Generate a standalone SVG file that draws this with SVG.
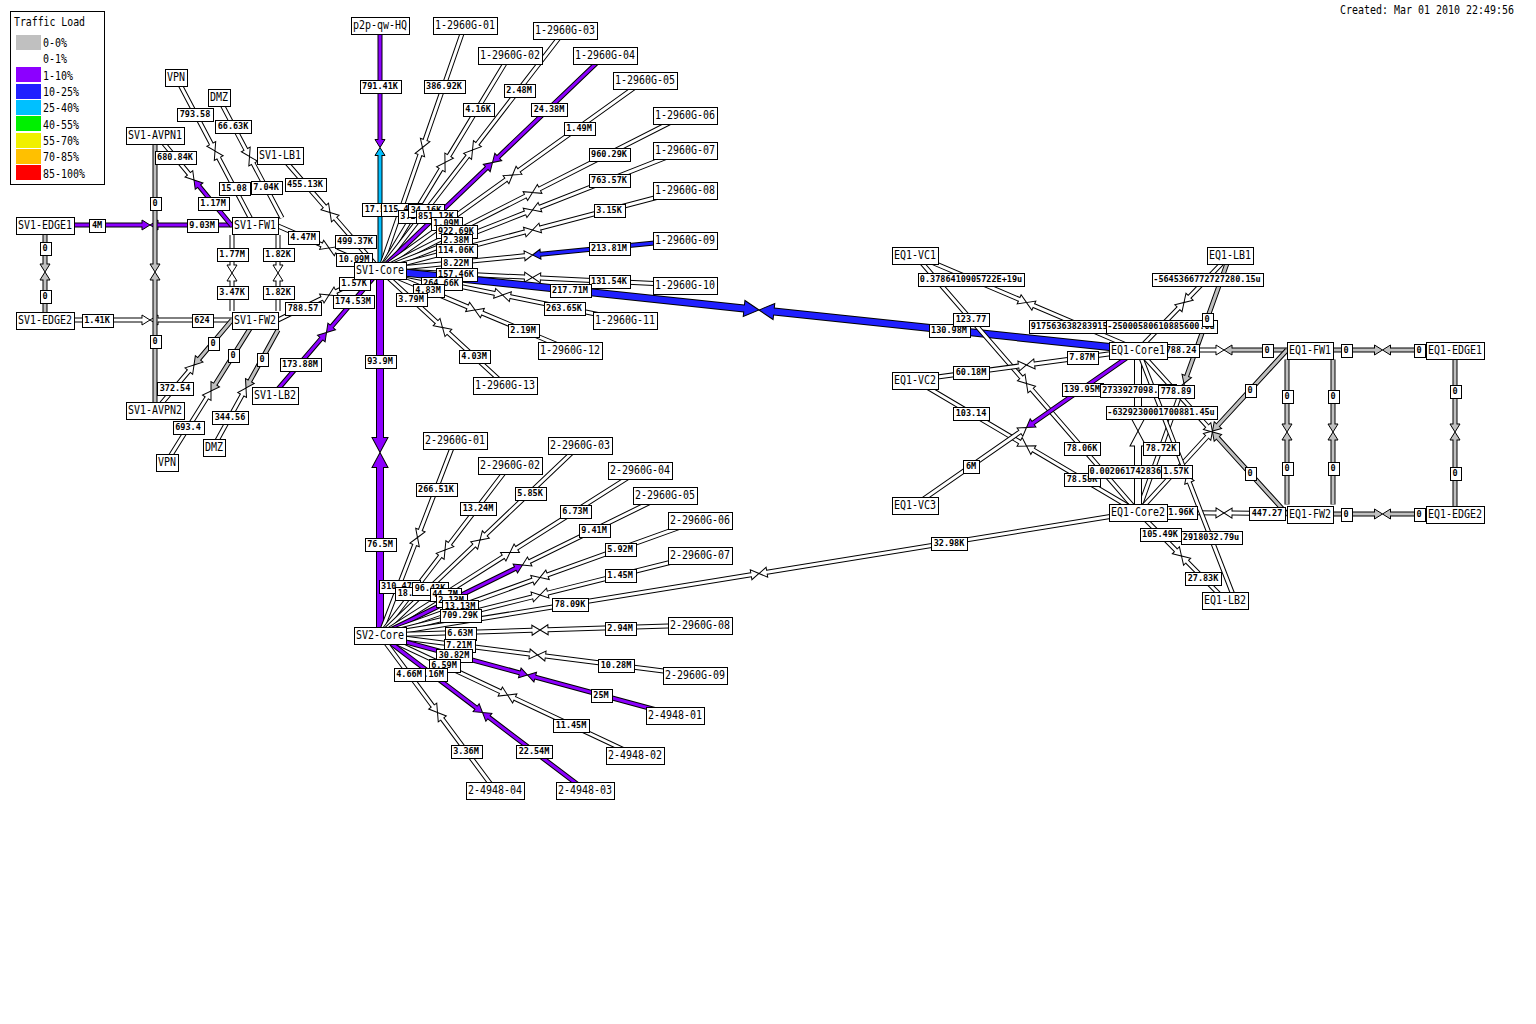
<svg xmlns="http://www.w3.org/2000/svg" width="1536" height="1024" viewBox="0 0 1536 1024">
<style>
.o{fill:none;stroke:#000;stroke-width:5;stroke-dasharray:0 8 9999}
.f{fill:none;stroke-width:3;stroke-dasharray:0 8 9999}
.O{fill:none;stroke:#000;stroke-width:8;stroke-dasharray:0 15 9999}
.F{fill:none;stroke-width:6;stroke-dasharray:0 15 9999}
.w{stroke:#fff;marker-start:url(#mw)}
.g{stroke:#c0c0c0;marker-start:url(#mg)}
.p{stroke:#8c00ff;marker-start:url(#mp)}
.b{stroke:#2020ff;marker-start:url(#mb)}
.c{stroke:#00c0ff;marker-start:url(#mc)}
.P{stroke:#8c00ff;marker-start:url(#mP)}
.B{stroke:#2020ff;marker-start:url(#mB)}
.W{stroke:#fff;marker-start:url(#mW)}
.lb rect{fill:#fff;stroke:#000;shape-rendering:crispEdges}
.lb text{font-family:"DejaVu Sans Mono",monospace;font-size:8.5px;font-weight:bold;text-anchor:middle;fill:#000}
.nd rect{fill:#fff;stroke:#000;shape-rendering:crispEdges}
.nd text,.tx{font-family:"DejaVu Sans Mono",monospace;font-size:12px;fill:#000}
.nd text{text-anchor:middle}
.hs{fill:none;stroke:#000;stroke-width:.3333}
.HS{fill:none;stroke:#000;stroke-width:.1667}
</style>
<defs>
<marker id="mw" markerWidth="1" markerHeight="1" orient="auto" overflow="visible"><path d="M2.8-.5H2.667V-1.667L0 0 2.667 1.667V.5H2.8z" fill="#fff"/><path class="hs" d="M2.667-.5V-1.667L0 0 2.667 1.667V.5"/></marker>
<marker id="mg" markerWidth="1" markerHeight="1" orient="auto" overflow="visible"><path d="M2.8-.5H2.667V-1.667L0 0 2.667 1.667V.5H2.8z" fill="#c0c0c0"/><path class="hs" d="M2.667-.5V-1.667L0 0 2.667 1.667V.5"/></marker>
<marker id="mp" markerWidth="1" markerHeight="1" orient="auto" overflow="visible"><path d="M2.8-.5H2.667V-1.667L0 0 2.667 1.667V.5H2.8z" fill="#8c00ff"/><path class="hs" d="M2.667-.5V-1.667L0 0 2.667 1.667V.5"/></marker>
<marker id="mb" markerWidth="1" markerHeight="1" orient="auto" overflow="visible"><path d="M2.8-.5H2.667V-1.667L0 0 2.667 1.667V.5H2.8z" fill="#2020ff"/><path class="hs" d="M2.667-.5V-1.667L0 0 2.667 1.667V.5"/></marker>
<marker id="mc" markerWidth="1" markerHeight="1" orient="auto" overflow="visible"><path d="M2.8-.5H2.667V-1.667L0 0 2.667 1.667V.5H2.8z" fill="#00c0ff"/><path class="hs" d="M2.667-.5V-1.667L0 0 2.667 1.667V.5"/></marker>
<marker id="mP" markerWidth="1" markerHeight="1" orient="auto" overflow="visible"><path d="M2.6-.5H2.5V-1.333L0 0 2.5 1.333V.5H2.6z" fill="#8c00ff"/><path class="HS" d="M2.5-.5V-1.333L0 0 2.5 1.333V.5"/></marker>
<marker id="mB" markerWidth="1" markerHeight="1" orient="auto" overflow="visible"><path d="M2.6-.5H2.5V-1.333L0 0 2.5 1.333V.5H2.6z" fill="#2020ff"/><path class="HS" d="M2.5-.5V-1.333L0 0 2.5 1.333V.5"/></marker>
<marker id="mW" markerWidth="1" markerHeight="1" orient="auto" overflow="visible"><path d="M2.6-.5H2.5V-1.333L0 0 2.5 1.333V.5H2.6z" fill="#fff"/><path class="HS" d="M2.5-.5V-1.333L0 0 2.5 1.333V.5"/></marker>
</defs>
<rect width="1536" height="1024" fill="#fff"/>
<g id="connectors">
<g id="l-sv1edge1-fw1"><path class="o" d="M150 225L45 225"/><path class="f p" d="M150 225L45 225"/><path class="o" d="M150 225L255 225"/><path class="f p" d="M150 225L255 225"/></g>
<g id="l-sv1edge2-fw2"><path class="o" d="M150 320L45 320"/><path class="f w" d="M150 320L45 320"/><path class="o" d="M150 320L255 320"/><path class="f w" d="M150 320L255 320"/></g>
<g id="l-sv1edge1-edge2"><path class="o" d="M45 272L45 224"/><path class="f g" d="M45 272L45 224"/><path class="o" d="M45 272L45 320"/><path class="f g" d="M45 272L45 320"/></g>
<g id="l-avpn1-avpn2"><path class="o" d="M155 272L155 134"/><path class="f g" d="M155 272L155 134"/><path class="o" d="M155 272L155 410"/><path class="f g" d="M155 272L155 410"/></g>
<g id="l-fw1-fw2-a"><path class="o" d="M232 273L232 235"/><path class="f w" d="M232 273L232 235"/><path class="o" d="M232 273L232 311"/><path class="f w" d="M232 273L232 311"/></g>
<g id="l-fw1-fw2-b"><path class="o" d="M278 273L278 235"/><path class="f w" d="M278 273L278 235"/><path class="o" d="M278 273L278 311"/><path class="f w" d="M278 273L278 311"/></g>
<g id="l-avpn1-fw1"><path class="o" d="M194 180L156 134"/><path class="f w" d="M194 180L156 134"/><path class="o" d="M194 180L232 226"/><path class="f p" d="M194 180L232 226"/></g>
<g id="l-vpn-fw1"><path class="o" d="M215 151L176 77"/><path class="f w" d="M215 151L176 77"/><path class="o" d="M215 151L254 225"/><path class="f w" d="M215 151L254 225"/></g>
<g id="l-dmz-fw1"><path class="o" d="M249.5 156.5L217 95"/><path class="f w" d="M249.5 156.5L217 95"/><path class="o" d="M249.5 156.5L282 218"/><path class="f w" d="M249.5 156.5L282 218"/></g>
<g id="l-lb1-core"><path class="o" d="M330 212.5L280 155"/><path class="f w" d="M330 212.5L280 155"/><path class="o" d="M330 212.5L380 270"/><path class="f w" d="M330 212.5L380 270"/></g>
<g id="l-fw1-core"><path class="o" d="M329 248L278 226"/><path class="f w" d="M329 248L278 226"/><path class="o" d="M329 248L380 270"/><path class="f w" d="M329 248L380 270"/></g>
<g id="l-fw2-core"><path class="o" d="M329 295L278 320"/><path class="f w" d="M329 295L278 320"/><path class="o" d="M329 295L380 270"/><path class="f w" d="M329 295L380 270"/></g>
<g id="l-lb2-core"><path class="o" d="M326.5 332.5L273 395"/><path class="f p" d="M326.5 332.5L273 395"/><path class="o" d="M326.5 332.5L380 270"/><path class="f p" d="M326.5 332.5L380 270"/></g>
<g id="l-fw2-avpn2"><path class="o" d="M194 365L232 320"/><path class="f g" d="M194 365L232 320"/><path class="o" d="M194 365L156 410"/><path class="f w" d="M194 365L156 410"/></g>
<g id="l-fw2-vpn"><path class="o" d="M211 391L256 319"/><path class="f g" d="M211 391L256 319"/><path class="o" d="M211 391L166 463"/><path class="f w" d="M211 391L166 463"/></g>
<g id="l-fw2-dmz"><path class="o" d="M246 388L278 330"/><path class="f g" d="M246 388L278 330"/><path class="o" d="M246 388L214 446"/><path class="f w" d="M246 388L214 446"/></g>
<g id="l-p2p-core"><path class="o" d="M380 147.5L380 25"/><path class="f p" d="M380 147.5L380 25"/><path class="o" d="M380 147.5L380 270"/><path class="f c" d="M380 147.5L380 270"/></g>
<g id="l-1g01"><path class="o" d="M422.5 147.5L465 25"/><path class="f w" d="M422.5 147.5L465 25"/><path class="o" d="M422.5 147.5L380 270"/><path class="f w" d="M422.5 147.5L380 270"/></g>
<g id="l-1g02"><path class="o" d="M445 162.5L510 55"/><path class="f w" d="M445 162.5L510 55"/><path class="o" d="M445 162.5L380 270"/><path class="f w" d="M445 162.5L380 270"/></g>
<g id="l-1g03"><path class="o" d="M472.5 150L565 30"/><path class="f w" d="M472.5 150L565 30"/><path class="o" d="M472.5 150L380 270"/><path class="f w" d="M472.5 150L380 270"/></g>
<g id="l-1g04"><path class="o" d="M492.5 162.5L605 55"/><path class="f p" d="M492.5 162.5L605 55"/><path class="o" d="M492.5 162.5L380 270"/><path class="f p" d="M492.5 162.5L380 270"/></g>
<g id="l-1g05"><path class="o" d="M512.5 175L645 80"/><path class="f w" d="M512.5 175L645 80"/><path class="o" d="M512.5 175L380 270"/><path class="f w" d="M512.5 175L380 270"/></g>
<g id="l-1g06"><path class="o" d="M532.5 192.5L685 115"/><path class="f w" d="M532.5 192.5L685 115"/><path class="o" d="M532.5 192.5L380 270"/><path class="f w" d="M532.5 192.5L380 270"/></g>
<g id="l-1g07"><path class="o" d="M532.5 210L685 150"/><path class="f w" d="M532.5 210L685 150"/><path class="o" d="M532.5 210L380 270"/><path class="f w" d="M532.5 210L380 270"/></g>
<g id="l-1g08"><path class="o" d="M532.5 230L685 190"/><path class="f w" d="M532.5 230L685 190"/><path class="o" d="M532.5 230L380 270"/><path class="f w" d="M532.5 230L380 270"/></g>
<g id="l-1g09"><path class="o" d="M532.5 255L685 240"/><path class="f b" d="M532.5 255L685 240"/><path class="o" d="M532.5 255L380 270"/><path class="f w" d="M532.5 255L380 270"/></g>
<g id="l-1g10"><path class="o" d="M532.5 277.5L685 285"/><path class="f w" d="M532.5 277.5L685 285"/><path class="o" d="M532.5 277.5L380 270"/><path class="f w" d="M532.5 277.5L380 270"/></g>
<g id="l-1g11"><path class="o" d="M502.5 295L625 320"/><path class="f w" d="M502.5 295L625 320"/><path class="o" d="M502.5 295L380 270"/><path class="f w" d="M502.5 295L380 270"/></g>
<g id="l-1g12"><path class="o" d="M475 310L570 350"/><path class="f w" d="M475 310L570 350"/><path class="o" d="M475 310L380 270"/><path class="f w" d="M475 310L380 270"/></g>
<g id="l-1g13"><path class="o" d="M442.5 327.5L505 385"/><path class="f w" d="M442.5 327.5L505 385"/><path class="o" d="M442.5 327.5L380 270"/><path class="f w" d="M442.5 327.5L380 270"/></g>
<g id="l-sv1-sv2"><path class="O" d="M380 452.5L380 270"/><path class="F P" d="M380 452.5L380 270"/><path class="O" d="M380 452.5L380 635"/><path class="F P" d="M380 452.5L380 635"/></g>
<g id="l-sv1-eq1"><path class="O" d="M759 310L380 270"/><path class="F B" d="M759 310L380 270"/><path class="O" d="M759 310L1138 350"/><path class="F B" d="M759 310L1138 350"/></g>
<g id="l-2g01"><path class="o" d="M417.5 537.5L455 440"/><path class="f w" d="M417.5 537.5L455 440"/><path class="o" d="M417.5 537.5L380 635"/><path class="f w" d="M417.5 537.5L380 635"/></g>
<g id="l-2g02"><path class="o" d="M445 550L510 465"/><path class="f w" d="M445 550L510 465"/><path class="o" d="M445 550L380 635"/><path class="f w" d="M445 550L380 635"/></g>
<g id="l-2g03"><path class="o" d="M480 540L580 445"/><path class="f w" d="M480 540L580 445"/><path class="o" d="M480 540L380 635"/><path class="f w" d="M480 540L380 635"/></g>
<g id="l-2g04"><path class="o" d="M510 552.5L640 470"/><path class="f w" d="M510 552.5L640 470"/><path class="o" d="M510 552.5L380 635"/><path class="f w" d="M510 552.5L380 635"/></g>
<g id="l-2g05"><path class="o" d="M522.5 565L665 495"/><path class="f w" d="M522.5 565L665 495"/><path class="o" d="M522.5 565L380 635"/><path class="f p" d="M522.5 565L380 635"/></g>
<g id="l-2g06"><path class="o" d="M540 577.5L700 520"/><path class="f w" d="M540 577.5L700 520"/><path class="o" d="M540 577.5L380 635"/><path class="f w" d="M540 577.5L380 635"/></g>
<g id="l-2g07"><path class="o" d="M540 595L700 555"/><path class="f w" d="M540 595L700 555"/><path class="o" d="M540 595L380 635"/><path class="f w" d="M540 595L380 635"/></g>
<g id="l-sv2-eq1"><path class="o" d="M759 573.5L380 635"/><path class="f w" d="M759 573.5L380 635"/><path class="o" d="M759 573.5L1138 512"/><path class="f w" d="M759 573.5L1138 512"/></g>
<g id="l-2g08"><path class="o" d="M540 630L700 625"/><path class="f w" d="M540 630L700 625"/><path class="o" d="M540 630L380 635"/><path class="f w" d="M540 630L380 635"/></g>
<g id="l-2g09"><path class="o" d="M537.5 655L695 675"/><path class="f w" d="M537.5 655L695 675"/><path class="o" d="M537.5 655L380 635"/><path class="f w" d="M537.5 655L380 635"/></g>
<g id="l-4948-01"><path class="o" d="M527.5 675L675 715"/><path class="f p" d="M527.5 675L675 715"/><path class="o" d="M527.5 675L380 635"/><path class="f p" d="M527.5 675L380 635"/></g>
<g id="l-4948-02"><path class="o" d="M507.5 695L635 755"/><path class="f w" d="M507.5 695L635 755"/><path class="o" d="M507.5 695L380 635"/><path class="f w" d="M507.5 695L380 635"/></g>
<g id="l-4948-03"><path class="o" d="M482.5 712.5L585 790"/><path class="f p" d="M482.5 712.5L585 790"/><path class="o" d="M482.5 712.5L380 635"/><path class="f p" d="M482.5 712.5L380 635"/></g>
<g id="l-4948-04"><path class="o" d="M437.5 712.5L495 790"/><path class="f w" d="M437.5 712.5L495 790"/><path class="o" d="M437.5 712.5L380 635"/><path class="f w" d="M437.5 712.5L380 635"/></g>
<g id="l-vc1-core1"><path class="o" d="M1026.5 302.5L915 255"/><path class="f w" d="M1026.5 302.5L915 255"/><path class="o" d="M1026.5 302.5L1138 350"/><path class="f w" d="M1026.5 302.5L1138 350"/></g>
<g id="l-vc1-core2"><path class="o" d="M1026.5 383.5L915 255"/><path class="f w" d="M1026.5 383.5L915 255"/><path class="o" d="M1026.5 383.5L1138 512"/><path class="f w" d="M1026.5 383.5L1138 512"/></g>
<g id="l-vc2-core1"><path class="o" d="M1026.5 365L915 380"/><path class="f w" d="M1026.5 365L915 380"/><path class="o" d="M1026.5 365L1138 350"/><path class="f w" d="M1026.5 365L1138 350"/></g>
<g id="l-vc2-core2"><path class="o" d="M1026.5 446L915 380"/><path class="f w" d="M1026.5 446L915 380"/><path class="o" d="M1026.5 446L1138 512"/><path class="f w" d="M1026.5 446L1138 512"/></g>
<g id="l-vc3-core1"><path class="o" d="M1026.5 427.5L915 505"/><path class="f w" d="M1026.5 427.5L915 505"/><path class="o" d="M1026.5 427.5L1138 350"/><path class="f p" d="M1026.5 427.5L1138 350"/></g>
<g id="l-lb1-core1"><path class="o" d="M1184 302.5L1230 255"/><path class="f w" d="M1184 302.5L1230 255"/><path class="o" d="M1184 302.5L1138 350"/><path class="f w" d="M1184 302.5L1138 350"/></g>
<g id="l-lb1-core2"><path class="o" d="M1184 383.5L1230 255"/><path class="f g" d="M1184 383.5L1230 255"/><path class="o" d="M1184 383.5L1138 512"/><path class="f w" d="M1184 383.5L1138 512"/></g>
<g id="l-core1-core2"><path class="O" d="M1138 431L1138 350"/><path class="F W" d="M1138 431L1138 350"/><path class="O" d="M1138 431L1138 512"/><path class="F W" d="M1138 431L1138 512"/></g>
<g id="l-core1-fw1"><path class="o" d="M1224 350L1138 350"/><path class="f w" d="M1224 350L1138 350"/><path class="o" d="M1224 350L1310 350"/><path class="f g" d="M1224 350L1310 350"/></g>
<g id="l-core2-fw2"><path class="o" d="M1224 513L1138 512"/><path class="f w" d="M1224 513L1138 512"/><path class="o" d="M1224 513L1310 514"/><path class="f w" d="M1224 513L1310 514"/></g>
<g id="l-fw1-edge1"><path class="o" d="M1382.5 350L1310 350"/><path class="f g" d="M1382.5 350L1310 350"/><path class="o" d="M1382.5 350L1455 350"/><path class="f g" d="M1382.5 350L1455 350"/></g>
<g id="l-fw2-edge2"><path class="o" d="M1382.5 514L1310 514"/><path class="f g" d="M1382.5 514L1310 514"/><path class="o" d="M1382.5 514L1455 514"/><path class="f g" d="M1382.5 514L1455 514"/></g>
<g id="l-edge1-edge2"><path class="o" d="M1455 432L1455 350"/><path class="f g" d="M1455 432L1455 350"/><path class="o" d="M1455 432L1455 514"/><path class="f g" d="M1455 432L1455 514"/></g>
<g id="l-eqfw-a"><path class="o" d="M1287 432L1287 359.5"/><path class="f g" d="M1287 432L1287 359.5"/><path class="o" d="M1287 432L1287 504.5"/><path class="f g" d="M1287 432L1287 504.5"/></g>
<g id="l-eqfw-b"><path class="o" d="M1333 432L1333 359.5"/><path class="f g" d="M1333 432L1333 359.5"/><path class="o" d="M1333 432L1333 504.5"/><path class="f g" d="M1333 432L1333 504.5"/></g>
<g id="l-fw1-core2"><path class="o" d="M1212.5 431L1287 350"/><path class="f g" d="M1212.5 431L1287 350"/><path class="o" d="M1212.5 431L1138 512"/><path class="f w" d="M1212.5 431L1138 512"/></g>
<g id="l-fw2-core1"><path class="o" d="M1212.5 432L1287 514"/><path class="f g" d="M1212.5 432L1287 514"/><path class="o" d="M1212.5 432L1138 350"/><path class="f w" d="M1212.5 432L1138 350"/></g>
<g id="l-lb2-core2"><path class="o" d="M1181.5 556L1225 600"/><path class="f w" d="M1181.5 556L1225 600"/><path class="o" d="M1181.5 556L1138 512"/><path class="f w" d="M1181.5 556L1138 512"/></g>
<g id="l-lb2-core1"><path class="o" d="M1186.5 475L1235 600"/><path class="f w" d="M1186.5 475L1235 600"/><path class="o" d="M1186.5 475L1138 350"/><path class="f w" d="M1186.5 475L1138 350"/></g>
</g>
<g id="link-labels" class="lb">
<rect x="89" y="219" width="16" height="13"/><text x="97" y="228">4M</text>
<rect x="187" y="219" width="31" height="13"/><text x="202" y="228">9.03M</text>
<rect x="82" y="314" width="31" height="13"/><text x="97" y="323">1.41K</text>
<rect x="192" y="314" width="21" height="13"/><text x="202" y="323">624</text>
<rect x="40" y="242" width="11" height="13"/><text x="45" y="251">0</text>
<rect x="40" y="290" width="11" height="13"/><text x="45" y="299">0</text>
<rect x="150" y="197" width="11" height="13"/><text x="155" y="206">0</text>
<rect x="150" y="335" width="11" height="13"/><text x="155" y="344">0</text>
<rect x="217" y="248" width="31" height="13"/><text x="232" y="257">1.77M</text>
<rect x="217" y="286" width="31" height="13"/><text x="232" y="295">3.47K</text>
<rect x="263" y="248" width="31" height="13"/><text x="278" y="257">1.82K</text>
<rect x="263" y="286" width="31" height="13"/><text x="278" y="295">1.82K</text>
<rect x="155" y="151" width="41" height="13"/><text x="175" y="160">680.84K</text>
<rect x="198" y="197" width="31" height="13"/><text x="213" y="206">1.17M</text>
<rect x="177" y="108" width="36" height="13"/><text x="195" y="117">793.58</text>
<rect x="219" y="182" width="31" height="13"/><text x="234" y="191">15.08</text>
<rect x="215" y="120" width="36" height="13"/><text x="233" y="129">66.63K</text>
<rect x="251" y="181" width="31" height="13"/><text x="266" y="190">7.04K</text>
<rect x="285" y="178" width="41" height="13"/><text x="305" y="187">455.13K</text>
<rect x="335" y="235" width="41" height="13"/><text x="355" y="244">499.37K</text>
<rect x="288" y="231" width="31" height="13"/><text x="303" y="240">4.47M</text>
<rect x="336" y="253" width="36" height="13"/><text x="354" y="262">10.09M</text>
<rect x="285" y="302" width="36" height="13"/><text x="303" y="311">788.57</text>
<rect x="339" y="277" width="31" height="13"/><text x="354" y="286">1.57K</text>
<rect x="280" y="358" width="41" height="13"/><text x="300" y="367">173.88M</text>
<rect x="333" y="295" width="41" height="13"/><text x="353" y="304">174.53M</text>
<rect x="208" y="337" width="11" height="13"/><text x="213" y="346">0</text>
<rect x="157" y="382" width="36" height="13"/><text x="175" y="391">372.54</text>
<rect x="228" y="349" width="11" height="13"/><text x="233" y="358">0</text>
<rect x="173" y="421" width="31" height="13"/><text x="188" y="430">693.4</text>
<rect x="257" y="353" width="11" height="13"/><text x="262" y="362">0</text>
<rect x="212" y="411" width="36" height="13"/><text x="230" y="420">344.56</text>
<rect x="360" y="80" width="41" height="13"/><text x="380" y="89">791.41K</text>
<rect x="362" y="203" width="36" height="13"/><text x="380" y="212">17.51M</text>
<rect x="424" y="80" width="41" height="13"/><text x="444" y="89">386.92K</text>
<rect x="381" y="203" width="41" height="13"/><text x="401" y="212">115.43K</text>
<rect x="463" y="103" width="31" height="13"/><text x="478" y="112">4.16K</text>
<rect x="398" y="210" width="31" height="13"/><text x="413" y="219">3.24M</text>
<rect x="504" y="84" width="31" height="13"/><text x="519" y="93">2.48M</text>
<rect x="408" y="204" width="36" height="13"/><text x="426" y="213">34.16K</text>
<rect x="531" y="103" width="36" height="13"/><text x="549" y="112">24.38M</text>
<rect x="416" y="210" width="41" height="13"/><text x="436" y="219">851.12K</text>
<rect x="564" y="122" width="31" height="13"/><text x="579" y="131">1.49M</text>
<rect x="431" y="217" width="31" height="13"/><text x="446" y="226">1.09M</text>
<rect x="589" y="148" width="41" height="13"/><text x="609" y="157">960.29K</text>
<rect x="436" y="225" width="41" height="13"/><text x="456" y="234">922.69K</text>
<rect x="589" y="174" width="41" height="13"/><text x="609" y="183">763.57K</text>
<rect x="441" y="234" width="31" height="13"/><text x="456" y="243">2.38M</text>
<rect x="594" y="204" width="31" height="13"/><text x="609" y="213">3.15K</text>
<rect x="436" y="244" width="41" height="13"/><text x="456" y="253">114.06K</text>
<rect x="589" y="242" width="41" height="13"/><text x="609" y="251">213.81M</text>
<rect x="441" y="257" width="31" height="13"/><text x="456" y="266">8.22M</text>
<rect x="589" y="275" width="41" height="13"/><text x="609" y="284">131.54K</text>
<rect x="436" y="268" width="41" height="13"/><text x="456" y="277">157.46K</text>
<rect x="544" y="302" width="41" height="13"/><text x="564" y="311">263.65K</text>
<rect x="421" y="277" width="41" height="13"/><text x="441" y="286">264.66K</text>
<rect x="508" y="324" width="31" height="13"/><text x="523" y="333">2.19M</text>
<rect x="413" y="284" width="31" height="13"/><text x="428" y="293">4.83M</text>
<rect x="459" y="350" width="31" height="13"/><text x="474" y="359">4.03M</text>
<rect x="396" y="293" width="31" height="13"/><text x="411" y="302">3.79M</text>
<rect x="365" y="355" width="31" height="13"/><text x="380" y="364">93.9M</text>
<rect x="365" y="538" width="31" height="13"/><text x="380" y="547">76.5M</text>
<rect x="550" y="284" width="41" height="13"/><text x="570" y="293">217.71M</text>
<rect x="929" y="324" width="41" height="13"/><text x="949" y="333">130.98M</text>
<rect x="416" y="483" width="41" height="13"/><text x="436" y="492">266.51K</text>
<rect x="379" y="580" width="41" height="13"/><text x="399" y="589">310.47K</text>
<rect x="460" y="502" width="36" height="13"/><text x="478" y="511">13.24M</text>
<rect x="395" y="587" width="36" height="13"/><text x="413" y="596">18.56M</text>
<rect x="515" y="487" width="31" height="13"/><text x="530" y="496">5.85K</text>
<rect x="412" y="582" width="36" height="13"/><text x="430" y="591">96.43K</text>
<rect x="560" y="505" width="31" height="13"/><text x="575" y="514">6.73M</text>
<rect x="430" y="588" width="31" height="13"/><text x="445" y="597">44.7M</text>
<rect x="579" y="524" width="31" height="13"/><text x="594" y="533">9.41M</text>
<rect x="436" y="594" width="31" height="13"/><text x="451" y="603">2.13M</text>
<rect x="605" y="543" width="31" height="13"/><text x="620" y="552">5.92M</text>
<rect x="442" y="600" width="36" height="13"/><text x="460" y="609">13.13M</text>
<rect x="605" y="569" width="31" height="13"/><text x="620" y="578">1.45M</text>
<rect x="440" y="609" width="41" height="13"/><text x="460" y="618">709.29K</text>
<rect x="552" y="598" width="36" height="13"/><text x="570" y="607">78.09K</text>
<rect x="931" y="537" width="36" height="13"/><text x="949" y="546">32.98K</text>
<rect x="605" y="622" width="31" height="13"/><text x="620" y="631">2.94M</text>
<rect x="445" y="627" width="31" height="13"/><text x="460" y="636">6.63M</text>
<rect x="598" y="659" width="36" height="13"/><text x="616" y="668">10.28M</text>
<rect x="444" y="639" width="31" height="13"/><text x="459" y="648">7.21M</text>
<rect x="591" y="689" width="21" height="13"/><text x="601" y="698">25M</text>
<rect x="436" y="649" width="36" height="13"/><text x="454" y="658">30.82M</text>
<rect x="553" y="719" width="36" height="13"/><text x="571" y="728">11.45M</text>
<rect x="429" y="659" width="31" height="13"/><text x="444" y="668">6.59M</text>
<rect x="516" y="745" width="36" height="13"/><text x="534" y="754">22.54M</text>
<rect x="416" y="668" width="31" height="13"/><text x="431" y="677">5.16M</text>
<rect x="451" y="745" width="31" height="13"/><text x="466" y="754">3.36M</text>
<rect x="394" y="668" width="31" height="13"/><text x="409" y="677">4.66M</text>
<rect x="918" y="273" width="106" height="13"/><text x="971" y="282">0.3786410905722E+19u</text>
<rect x="1029" y="320" width="106" height="13"/><text x="1082" y="329">9175636382839155.13u</text>
<rect x="953" y="313" width="36" height="13"/><text x="971" y="322">123.77</text>
<rect x="1064" y="442" width="36" height="13"/><text x="1082" y="451">78.06K</text>
<rect x="953" y="366" width="36" height="13"/><text x="971" y="375">60.18M</text>
<rect x="1067" y="351" width="31" height="13"/><text x="1082" y="360">7.87M</text>
<rect x="953" y="407" width="36" height="13"/><text x="971" y="416">103.14</text>
<rect x="1064" y="473" width="36" height="13"/><text x="1082" y="482">78.58K</text>
<rect x="963" y="460" width="16" height="13"/><text x="971" y="469">6M</text>
<rect x="1062" y="383" width="41" height="13"/><text x="1082" y="392">139.95M</text>
<rect x="1152" y="273" width="111" height="13"/><text x="1207" y="282">-5645366772727280.15u</text>
<rect x="1106" y="320" width="111" height="13"/><text x="1161" y="329">-25000580610885600.0u</text>
<rect x="1202" y="313" width="11" height="13"/><text x="1207" y="322">0</text>
<rect x="1143" y="442" width="36" height="13"/><text x="1161" y="451">78.72K</text>
<rect x="1100" y="384" width="76" height="13"/><text x="1138" y="393">2733927098.34u</text>
<rect x="1088" y="465" width="101" height="13"/><text x="1138" y="474">0.0020617428361737u</text>
<rect x="1163" y="344" width="36" height="13"/><text x="1181" y="353">788.24</text>
<rect x="1262" y="344" width="11" height="13"/><text x="1267" y="353">0</text>
<rect x="1166" y="506" width="31" height="13"/><text x="1181" y="515">1.96K</text>
<rect x="1249" y="507" width="36" height="13"/><text x="1267" y="516">447.27</text>
<rect x="1341" y="344" width="11" height="13"/><text x="1346" y="353">0</text>
<rect x="1414" y="344" width="11" height="13"/><text x="1419" y="353">0</text>
<rect x="1341" y="508" width="11" height="13"/><text x="1346" y="517">0</text>
<rect x="1414" y="508" width="11" height="13"/><text x="1419" y="517">0</text>
<rect x="1450" y="385" width="11" height="13"/><text x="1455" y="394">0</text>
<rect x="1450" y="467" width="11" height="13"/><text x="1455" y="476">0</text>
<rect x="1282" y="390" width="11" height="13"/><text x="1287" y="399">0</text>
<rect x="1282" y="462" width="11" height="13"/><text x="1287" y="471">0</text>
<rect x="1328" y="390" width="11" height="13"/><text x="1333" y="399">0</text>
<rect x="1328" y="462" width="11" height="13"/><text x="1333" y="471">0</text>
<rect x="1245" y="384" width="11" height="13"/><text x="1250" y="393">0</text>
<rect x="1161" y="465" width="31" height="13"/><text x="1176" y="474">1.57K</text>
<rect x="1245" y="467" width="11" height="13"/><text x="1250" y="476">0</text>
<rect x="1158" y="385" width="36" height="13"/><text x="1176" y="394">778.89</text>
<rect x="1185" y="572" width="36" height="13"/><text x="1203" y="581">27.83K</text>
<rect x="1140" y="528" width="41" height="13"/><text x="1160" y="537">105.49K</text>
<rect x="1181" y="531" width="61" height="13"/><text x="1211" y="540">2918032.79u</text>
<rect x="1106" y="406" width="111" height="13"/><text x="1161" y="415">-6329230001700881.45u</text>
</g>
<g id="nodes" class="nd">
<g id="n-sv1-edge1"><rect x="16" y="217" width="58" height="17"/><text x="45" y="229" textLength="54" lengthAdjust="spacingAndGlyphs">SV1-EDGE1</text></g>
<g id="n-sv1-edge2"><rect x="16" y="312" width="58" height="17"/><text x="45" y="324" textLength="54" lengthAdjust="spacingAndGlyphs">SV1-EDGE2</text></g>
<g id="n-sv1-avpn1"><rect x="126" y="127" width="58" height="17"/><text x="155" y="139" textLength="54" lengthAdjust="spacingAndGlyphs">SV1-AVPN1</text></g>
<g id="n-sv1-avpn2"><rect x="126" y="402" width="58" height="17"/><text x="155" y="414" textLength="54" lengthAdjust="spacingAndGlyphs">SV1-AVPN2</text></g>
<g id="n-sv1-fw1"><rect x="232" y="217" width="46" height="17"/><text x="255" y="229" textLength="42" lengthAdjust="spacingAndGlyphs">SV1-FW1</text></g>
<g id="n-sv1-fw2"><rect x="232" y="312" width="46" height="17"/><text x="255" y="324" textLength="42" lengthAdjust="spacingAndGlyphs">SV1-FW2</text></g>
<g id="n-vpn-a"><rect x="165" y="69" width="22" height="17"/><text x="176" y="81" textLength="18" lengthAdjust="spacingAndGlyphs">VPN</text></g>
<g id="n-dmz-a"><rect x="208" y="89" width="22" height="17"/><text x="219" y="101" textLength="18" lengthAdjust="spacingAndGlyphs">DMZ</text></g>
<g id="n-sv1-lb1"><rect x="257" y="147" width="46" height="17"/><text x="280" y="159" textLength="42" lengthAdjust="spacingAndGlyphs">SV1-LB1</text></g>
<g id="n-vpn-b"><rect x="156" y="454" width="22" height="17"/><text x="167" y="466" textLength="18" lengthAdjust="spacingAndGlyphs">VPN</text></g>
<g id="n-dmz-b"><rect x="203" y="439" width="22" height="17"/><text x="214" y="451" textLength="18" lengthAdjust="spacingAndGlyphs">DMZ</text></g>
<g id="n-sv1-lb2"><rect x="252" y="387" width="46" height="17"/><text x="275" y="399" textLength="42" lengthAdjust="spacingAndGlyphs">SV1-LB2</text></g>
<g id="n-sv1-core"><rect x="354" y="262" width="52" height="17"/><text x="380" y="274" textLength="48" lengthAdjust="spacingAndGlyphs">SV1-Core</text></g>
<g id="n-p2p"><rect x="351" y="17" width="58" height="17"/><text x="380" y="29" textLength="54" lengthAdjust="spacingAndGlyphs">p2p-qw-HQ</text></g>
<g id="n-1g01"><rect x="433" y="17" width="64" height="17"/><text x="465" y="29" textLength="60" lengthAdjust="spacingAndGlyphs">1-2960G-01</text></g>
<g id="n-1g02"><rect x="478" y="47" width="64" height="17"/><text x="510" y="59" textLength="60" lengthAdjust="spacingAndGlyphs">1-2960G-02</text></g>
<g id="n-1g03"><rect x="533" y="22" width="64" height="17"/><text x="565" y="34" textLength="60" lengthAdjust="spacingAndGlyphs">1-2960G-03</text></g>
<g id="n-1g04"><rect x="573" y="47" width="64" height="17"/><text x="605" y="59" textLength="60" lengthAdjust="spacingAndGlyphs">1-2960G-04</text></g>
<g id="n-1g05"><rect x="613" y="72" width="64" height="17"/><text x="645" y="84" textLength="60" lengthAdjust="spacingAndGlyphs">1-2960G-05</text></g>
<g id="n-1g06"><rect x="653" y="107" width="64" height="17"/><text x="685" y="119" textLength="60" lengthAdjust="spacingAndGlyphs">1-2960G-06</text></g>
<g id="n-1g07"><rect x="653" y="142" width="64" height="17"/><text x="685" y="154" textLength="60" lengthAdjust="spacingAndGlyphs">1-2960G-07</text></g>
<g id="n-1g08"><rect x="653" y="182" width="64" height="17"/><text x="685" y="194" textLength="60" lengthAdjust="spacingAndGlyphs">1-2960G-08</text></g>
<g id="n-1g09"><rect x="653" y="232" width="64" height="17"/><text x="685" y="244" textLength="60" lengthAdjust="spacingAndGlyphs">1-2960G-09</text></g>
<g id="n-1g10"><rect x="653" y="277" width="64" height="17"/><text x="685" y="289" textLength="60" lengthAdjust="spacingAndGlyphs">1-2960G-10</text></g>
<g id="n-1g11"><rect x="593" y="312" width="64" height="17"/><text x="625" y="324" textLength="60" lengthAdjust="spacingAndGlyphs">1-2960G-11</text></g>
<g id="n-1g12"><rect x="538" y="342" width="64" height="17"/><text x="570" y="354" textLength="60" lengthAdjust="spacingAndGlyphs">1-2960G-12</text></g>
<g id="n-1g13"><rect x="473" y="377" width="64" height="17"/><text x="505" y="389" textLength="60" lengthAdjust="spacingAndGlyphs">1-2960G-13</text></g>
<g id="n-sv2-core"><rect x="354" y="627" width="52" height="17"/><text x="380" y="639" textLength="48" lengthAdjust="spacingAndGlyphs">SV2-Core</text></g>
<g id="n-2g01"><rect x="423" y="432" width="64" height="17"/><text x="455" y="444" textLength="60" lengthAdjust="spacingAndGlyphs">2-2960G-01</text></g>
<g id="n-2g02"><rect x="478" y="457" width="64" height="17"/><text x="510" y="469" textLength="60" lengthAdjust="spacingAndGlyphs">2-2960G-02</text></g>
<g id="n-2g03"><rect x="548" y="437" width="64" height="17"/><text x="580" y="449" textLength="60" lengthAdjust="spacingAndGlyphs">2-2960G-03</text></g>
<g id="n-2g04"><rect x="608" y="462" width="64" height="17"/><text x="640" y="474" textLength="60" lengthAdjust="spacingAndGlyphs">2-2960G-04</text></g>
<g id="n-2g05"><rect x="633" y="487" width="64" height="17"/><text x="665" y="499" textLength="60" lengthAdjust="spacingAndGlyphs">2-2960G-05</text></g>
<g id="n-2g06"><rect x="668" y="512" width="64" height="17"/><text x="700" y="524" textLength="60" lengthAdjust="spacingAndGlyphs">2-2960G-06</text></g>
<g id="n-2g07"><rect x="668" y="547" width="64" height="17"/><text x="700" y="559" textLength="60" lengthAdjust="spacingAndGlyphs">2-2960G-07</text></g>
<g id="n-2g08"><rect x="668" y="617" width="64" height="17"/><text x="700" y="629" textLength="60" lengthAdjust="spacingAndGlyphs">2-2960G-08</text></g>
<g id="n-2g09"><rect x="663" y="667" width="64" height="17"/><text x="695" y="679" textLength="60" lengthAdjust="spacingAndGlyphs">2-2960G-09</text></g>
<g id="n-4948-01"><rect x="646" y="707" width="58" height="17"/><text x="675" y="719" textLength="54" lengthAdjust="spacingAndGlyphs">2-4948-01</text></g>
<g id="n-4948-02"><rect x="606" y="747" width="58" height="17"/><text x="635" y="759" textLength="54" lengthAdjust="spacingAndGlyphs">2-4948-02</text></g>
<g id="n-4948-03"><rect x="556" y="782" width="58" height="17"/><text x="585" y="794" textLength="54" lengthAdjust="spacingAndGlyphs">2-4948-03</text></g>
<g id="n-4948-04"><rect x="466" y="782" width="58" height="17"/><text x="495" y="794" textLength="54" lengthAdjust="spacingAndGlyphs">2-4948-04</text></g>
<g id="n-eq1-vc1"><rect x="892" y="247" width="46" height="17"/><text x="915" y="259" textLength="42" lengthAdjust="spacingAndGlyphs">EQ1-VC1</text></g>
<g id="n-eq1-lb1"><rect x="1207" y="247" width="46" height="17"/><text x="1230" y="259" textLength="42" lengthAdjust="spacingAndGlyphs">EQ1-LB1</text></g>
<g id="n-eq1-core1"><rect x="1109" y="342" width="58" height="17"/><text x="1138" y="354" textLength="54" lengthAdjust="spacingAndGlyphs">EQ1-Core1</text></g>
<g id="n-eq1-fw1"><rect x="1287" y="342" width="46" height="17"/><text x="1310" y="354" textLength="42" lengthAdjust="spacingAndGlyphs">EQ1-FW1</text></g>
<g id="n-eq1-edge1"><rect x="1426" y="342" width="58" height="17"/><text x="1455" y="354" textLength="54" lengthAdjust="spacingAndGlyphs">EQ1-EDGE1</text></g>
<g id="n-eq1-vc2"><rect x="892" y="372" width="46" height="17"/><text x="915" y="384" textLength="42" lengthAdjust="spacingAndGlyphs">EQ1-VC2</text></g>
<g id="n-eq1-vc3"><rect x="892" y="497" width="46" height="17"/><text x="915" y="509" textLength="42" lengthAdjust="spacingAndGlyphs">EQ1-VC3</text></g>
<g id="n-eq1-core2"><rect x="1109" y="504" width="58" height="17"/><text x="1138" y="516" textLength="54" lengthAdjust="spacingAndGlyphs">EQ1-Core2</text></g>
<g id="n-eq1-fw2"><rect x="1287" y="506" width="46" height="17"/><text x="1310" y="518" textLength="42" lengthAdjust="spacingAndGlyphs">EQ1-FW2</text></g>
<g id="n-eq1-edge2"><rect x="1426" y="506" width="58" height="17"/><text x="1455" y="518" textLength="54" lengthAdjust="spacingAndGlyphs">EQ1-EDGE2</text></g>
<g id="n-eq1-lb2"><rect x="1202" y="592" width="46" height="17"/><text x="1225" y="604" textLength="42" lengthAdjust="spacingAndGlyphs">EQ1-LB2</text></g>
</g>
<g id="legend">
<rect x="10" y="11" width="94" height="173" fill="#fff" stroke="#000" shape-rendering="crispEdges"/>
<text class="tx" x="14" y="26" textLength="71" lengthAdjust="spacingAndGlyphs">Traffic Load</text>
<g shape-rendering="crispEdges">
<rect x="16" y="35" width="25" height="15" fill="#c0c0c0"/>
<rect x="16" y="67" width="25" height="15" fill="#8c00ff"/>
<rect x="16" y="84" width="25" height="15" fill="#2020ff"/>
<rect x="16" y="100" width="25" height="15" fill="#00c0ff"/>
<rect x="16" y="116" width="25" height="15" fill="#00f000"/>
<rect x="16" y="133" width="25" height="15" fill="#f0f000"/>
<rect x="16" y="149" width="25" height="15" fill="#ffc000"/>
<rect x="16" y="165" width="25" height="15" fill="#ff0000"/>
</g>
<text class="tx" x="43" y="47" textLength="24" lengthAdjust="spacingAndGlyphs">0-0%</text>
<text class="tx" x="43" y="63" textLength="24" lengthAdjust="spacingAndGlyphs">0-1%</text>
<text class="tx" x="43" y="80" textLength="30" lengthAdjust="spacingAndGlyphs">1-10%</text>
<text class="tx" x="43" y="96" textLength="36" lengthAdjust="spacingAndGlyphs">10-25%</text>
<text class="tx" x="43" y="112" textLength="36" lengthAdjust="spacingAndGlyphs">25-40%</text>
<text class="tx" x="43" y="129" textLength="36" lengthAdjust="spacingAndGlyphs">40-55%</text>
<text class="tx" x="43" y="145" textLength="36" lengthAdjust="spacingAndGlyphs">55-70%</text>
<text class="tx" x="43" y="161" textLength="36" lengthAdjust="spacingAndGlyphs">70-85%</text>
<text class="tx" x="43" y="178" textLength="42" lengthAdjust="spacingAndGlyphs">85-100%</text>
</g>
<text id="timestamp" class="tx" x="1340" y="14" textLength="174" lengthAdjust="spacingAndGlyphs">Created: Mar 01 2010 22:49:56</text>
</svg>
